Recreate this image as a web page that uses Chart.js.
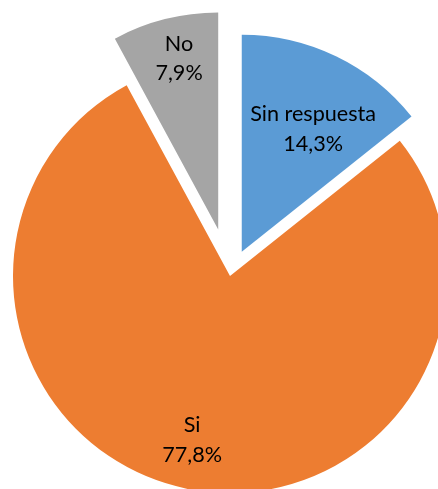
<!DOCTYPE html>
<html>
<head>
<meta charset="utf-8">
<script src="https://cdn.jsdelivr.net/npm/chart.js@4/dist/chart.umd.min.js"></script>
<style>
  html, body { margin: 0; padding: 0; background: #ffffff; overflow: hidden; }
  #wrap { width: 438px; height: 489px; position: relative; }
</style>
</head>
<body>
<div id="wrap"><canvas id="c" width="438" height="489"></canvas></div>
<script>
// ---- data ----
const categories = ['Sin respuesta', 'Si', 'No'];
const values = [14.3, 77.8, 7.9];
const colors = ['#5B9BD5', '#ED7D31', '#A5A5A5'];

// ---- styling (not data) ----
const explode = [27, 0, 48];              // px each slice is pulled out
const labelAngleDeg = [30.2, 193.0, 347.1]; // label direction, clockwise from 12 o'clock
const labelRadius = [0.654, 0.776, 0.808];  // fraction of radius
const FONT = '21.6px Lato';
const LINE = 29.5;

function fmt(v) { return v.toFixed(1).replace('.', ',') + '%'; }

const explodePlugin = {
  id: 'explode',
  beforeDatasetDraw(chart, args) {
    const ctx = chart.ctx;
    args.meta.data.forEach((arc, i) => {
      const mid = (arc.startAngle + arc.endAngle) / 2;
      ctx.save();
      ctx.translate(Math.cos(mid) * explode[i], Math.sin(mid) * explode[i]);
      arc.draw(ctx);
      ctx.restore();
    });
    return false;
  },
  afterDatasetsDraw(chart) {
    const ctx = chart.ctx;
    const meta = chart.getDatasetMeta(0);
    ctx.save();
    ctx.font = FONT;
    ctx.fillStyle = '#000000';
    ctx.textAlign = 'center';
    ctx.textBaseline = 'middle';
    meta.data.forEach((arc, i) => {
      const mid = (arc.startAngle + arc.endAngle) / 2;
      const ax = arc.x + Math.cos(mid) * explode[i];
      const ay = arc.y + Math.sin(mid) * explode[i];
      const a = (labelAngleDeg[i] - 90) * Math.PI / 180;
      const r = arc.outerRadius * labelRadius[i];
      const lx = ax + Math.cos(a) * r;
      const ly = ay + Math.sin(a) * r;
      ctx.fillText(categories[i], lx, ly - LINE / 2);
      ctx.fillText(fmt(values[i]), lx, ly + LINE / 2);
    });
    ctx.restore();
  }
};

new Chart(document.getElementById('c'), {
  type: 'pie',
  data: {
    labels: categories,
    datasets: [{
      data: values,
      backgroundColor: colors,
      borderWidth: 0,
      radius: 217,
      clip: false
    }]
  },
  options: {
    responsive: false,
    animation: false,
    layout: { padding: { left: 22, right: 0, top: 63, bottom: 0 } },
    plugins: {
      legend: { display: false },
      tooltip: { enabled: false }
    }
  },
  plugins: [explodePlugin]
});
</script>
</body>
</html>
